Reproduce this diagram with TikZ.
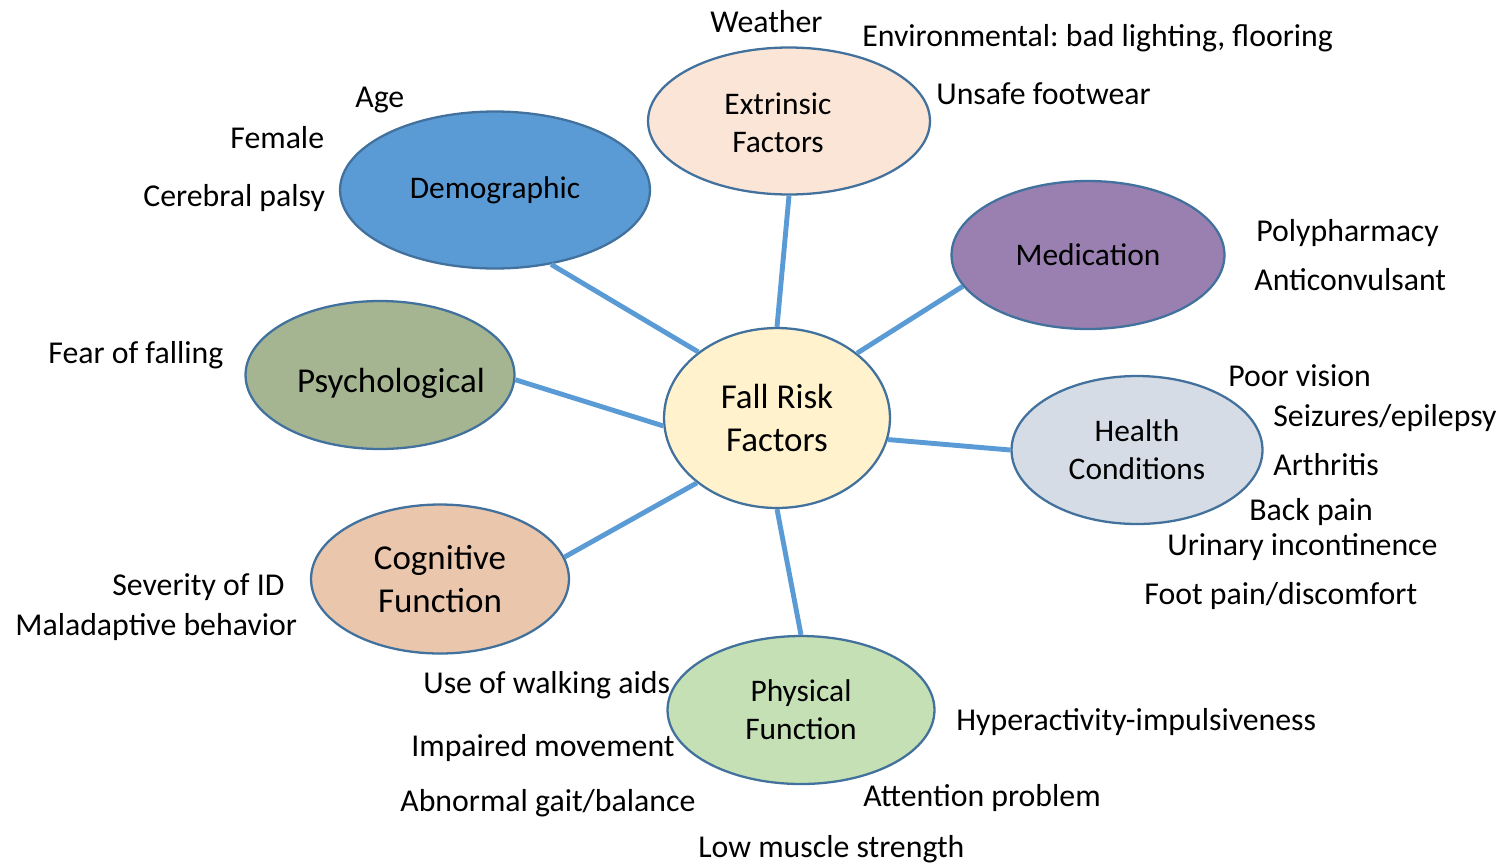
\documentclass[tikz,border=0pt]{standalone}
\usepackage{fontspec}
\setmainfont{Carlito}
\frenchspacing
\usetikzlibrary{shapes.geometric}

\definecolor{linkblue}{RGB}{91,155,213}
\definecolor{rimblue}{RGB}{65,113,156}
\definecolor{demofill}{RGB}{91,155,213}
\definecolor{extrfill}{RGB}{251,229,214}
\definecolor{medfill}{RGB}{153,128,176}
\definecolor{psyfill}{RGB}{165,181,146}
\definecolor{fallfill}{RGB}{255,242,204}
\definecolor{healthfill}{RGB}{214,220,229}
\definecolor{cogfill}{RGB}{234,198,172}
\definecolor{physfill}{RGB}{197,224,180}

\begin{document}
\begin{tikzpicture}[x=0.02cm,y=-0.02cm]
	\tikzstyle{factor}=[ellipse,draw=rimblue,line width=1.3pt,inner sep=0pt,align=center,
		font=\fontsize{17.9}{21.8}\selectfont]
	\tikzstyle{big}=[font=\fontsize{19.9}{24.2}\selectfont]
	\tikzstyle{item}=[anchor=west,inner sep=0pt,text height=0.63em,text depth=0pt,
		font=\fontsize{18.1}{22}\selectfont]
	\tikzstyle{link}=[draw=linkblue,line width=2.8pt]
	
	\useasboundingbox (0,0) rectangle (1507,863);
	
	% the eight factor groups
	\node[factor,fill=fallfill,big,minimum width=4.52cm,minimum height=3.6cm]     (fall)   at (777,418)  {Fall Risk\\Factors};
	\node[factor,fill=demofill,minimum width=6.2cm,minimum height=3.14cm]         (demo)   at (495,190)  {Demographic};
	\node[factor,fill=extrfill,minimum width=5.64cm,minimum height=2.94cm,
		label={[align=center,xshift=-0.22cm,yshift=-0.04cm,font=\fontsize{17.9}{21.8}\selectfont]center:Extrinsic\\Factors}] (extr) at (789,121) {};
	\node[factor,fill=medfill,minimum width=5.46cm,minimum height=2.96cm]         (med)    at (1088,255) {Medication};
	\node[factor,fill=psyfill,minimum width=5.38cm,minimum height=2.96cm,
		label={[xshift=0.22cm,yshift=-0.16cm,font=\fontsize{19.9}{24.2}\selectfont]center:Psychological}] (psy) at (380,375) {};
	\node[factor,fill=healthfill,minimum width=5.02cm,minimum height=2.96cm]      (health) at (1137,450) {Health\\Conditions};
	\node[factor,fill=cogfill,big,minimum width=5.16cm,minimum height=2.98cm]     (cog)    at (440,579)  {Cognitive\\Function};
	\node[factor,fill=physfill,minimum width=5.34cm,minimum height=2.96cm]        (phys)   at (801,710)  {Physical\\Function};
	
	\path (fall.140) edge[link] (demo.-53);
	\path (fall.90)  edge[link] (extr.-90);
	\path (fall.39)  edge[link] (med.194);
	\path (fall.184) edge[link] (psy.-2);
	\path (fall.-11) edge[link] (health.180);
	\path (fall.219) edge[link] (cog.10);
	\path (fall.-90) edge[link] (phys.90);
	
	% demographic
	\node[item] (age)     at (355,102)  {Age};
	\node[item] (female)  at (230,143) {Female};
	\node[item] (palsy)   at (143,201) {Cerebral palsy};
	% extrinsic
	\node[item] (weather) at (710,27)  {Weather};
	\node[item] (envir)   at (862,41)  {Environmental: bad lighting, flooring};
	\node[item] (shoes)   at (936,99)  {Unsafe footwear};
	% medication
	\node[item] (poly)    at (1256,236) {Polypharmacy};
	\node[item] (anticon) at (1254,285) {Anticonvulsant};
	% psychological
	\node[item] (fear)    at (48,358)  {Fear of falling};
	% health
	\node[item] (vision)  at (1228,381) {Poor vision};
	\node[item] (seiz)    at (1273,421) {Seizures/epilepsy};
	\node[item] (arth)    at (1273,470) {Arthritis};
	\node[item] (back)    at (1249,515) {Back pain};
	\node[item] (urine)   at (1167,550) {Urinary incontinence};
	\node[item] (foot)    at (1144,599) {Foot pain/discomfort};
	% cognitive
	\node[item] (idsev)   at (112,590) {Severity of ID};
	\node[item] (malad)   at (15,630)  {Maladaptive behavior};
	% physical
	\node[item] (aids)    at (423,688) {Use of walking aids};
	\node[item] (movem)   at (411,751) {Impaired movement};
	\node[item] (gait)    at (400,806) {Abnormal gait/balance};
	\node[item] (hyper)   at (956,725) {Hyperactivity-impulsiveness};
	\node[item] (attn)    at (863,801) {Attention problem};
	\node[item] (muscle)  at (698,852) {Low muscle strength};
\end{tikzpicture}
\end{document}
